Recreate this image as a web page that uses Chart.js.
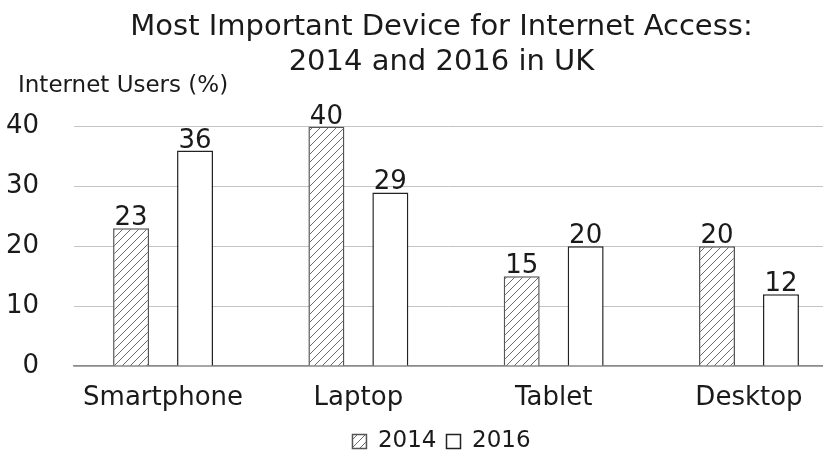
<!DOCTYPE html>
<html>
<head>
<meta charset="utf-8">
<script src="https://cdn.jsdelivr.net/npm/chart.js@4"></script>
<style>
  html, body { margin: 0; padding: 0; background: #fff; overflow: hidden; }
  #wrap { width: 823px; height: 456px; }
</style>
</head>
<body>
<div id="wrap"><canvas id="deviceChart" width="823" height="456"></canvas></div>
<script>
var categories = ['Smartphone', 'Laptop', 'Tablet', 'Desktop'];
var users2014 = [23, 40, 15, 20];
var users2016 = [36, 29, 20, 12];
var yTicks = [0, 10, 20, 30, 40];

var FONT = "'DejaVu Sans', 'Liberation Sans', sans-serif";
var TEXT = '#1a1a1a';

// diagonal hatch for the 2014 bars
function makeHatch() {
    var c = document.createElement('canvas');
    c.width = 8; c.height = 8;
    var g = c.getContext('2d');
    g.fillStyle = '#fff';
    g.fillRect(0, 0, 8, 8);
    g.strokeStyle = '#6a6a6a';
    g.lineWidth = 1;
    g.beginPath();
    g.moveTo(0, 8); g.lineTo(8, 0);
    g.moveTo(-1, 1); g.lineTo(1, -1);
    g.moveTo(7, 9); g.lineTo(9, 7);
    g.stroke();
    return g.createPattern(c, 'repeat');
}

function toPoints(values) {
    return values.map(function(v, i) { return { x: i, y: v }; });
}

var valueLabels = {
    id: 'valueLabels',
    afterDatasetsDraw: function(chart) {
        var ctx = chart.ctx;
        ctx.save();
        ctx.font = '26px ' + FONT;
        ctx.fillStyle = TEXT;
        ctx.textAlign = 'center';
        ctx.textBaseline = 'alphabetic';
        chart.data.datasets.forEach(function(ds, di) {
            chart.getDatasetMeta(di).data.forEach(function(bar, i) {
                ctx.fillText(ds.data[i].y, bar.x, bar.y - 3);
            });
        });
        ctx.restore();
    }
};

var yTitle = {
    id: 'yTitle',
    afterDraw: function(chart) {
        var ctx = chart.ctx;
        ctx.save();
        ctx.font = '23px ' + FONT;
        ctx.fillStyle = TEXT;
        ctx.textAlign = 'left';
        ctx.textBaseline = 'alphabetic';
        ctx.fillText('Internet Users (%)', 18, chart.chartArea.top - 35);
        ctx.restore();
    }
};

var ctx = document.getElementById('deviceChart').getContext('2d');
var deviceChart = new Chart(ctx, {
    type: 'bar',
    data: {
        datasets: [
            {
                label: '2014',
                data: toPoints(users2014),
                backgroundColor: makeHatch(),
                borderColor: '#555',
                borderWidth: 1.5,
                categoryPercentage: 0.655,
                barPercentage: 0.5625
            },
            {
                label: '2016',
                data: toPoints(users2016),
                backgroundColor: '#fff',
                borderColor: '#222',
                borderWidth: 1.5,
                categoryPercentage: 0.655,
                barPercentage: 0.5625
            }
        ]
    },
    options: {
        responsive: false,
        animation: false,
        // shifts title and legend right a little, as in the original
        layout: { padding: { left: 0, right: -60, top: 0, bottom: -7 } },
        scales: {
            x: {
                type: 'linear',
                offset: false,
                min: -0.456,
                max: 3.379,
                afterBuildTicks: function(axis) {
                    axis.ticks = categories.map(function(c, i) { return { value: i }; });
                },
                afterFit: function(axis) { axis.height = 54; },
                grid: { display: false, drawTicks: false, offset: false },
                border: { display: true, color: '#8a8a8a', width: 1.5 },
                ticks: {
                    padding: 17,
                    color: TEXT,
                    font: { family: FONT, size: 26 },
                    maxRotation: 0,
                    autoSkip: false,
                    callback: function(v) { return categories[v]; }
                }
            },
            y: {
                min: yTicks[0],
                max: yTicks[yTicks.length - 1],
                afterFit: function(axis) { axis.width = 74; },
                afterBuildTicks: function(axis) {
                    axis.ticks = yTicks.map(function(v) { return { value: v }; });
                },
                grid: { color: '#c4c4c4', lineWidth: 1, drawTicks: false },
                border: { display: false },
                ticks: {
                    padding: 35,
                    color: TEXT,
                    font: { family: FONT, size: 26 }
                }
            }
        },
        plugins: {
            title: {
                display: true,
                text: ['Most Important Device for Internet Access:', '2014 and 2016 in UK'],
                color: TEXT,
                font: { family: FONT, size: 29, weight: 'normal', lineHeight: 1.2 },
                padding: { top: 10, bottom: 47 }
            },
            legend: {
                position: 'bottom',
                labels: {
                    color: TEXT,
                    font: { family: FONT, size: 23 },
                    boxWidth: 14,
                    boxHeight: 14,
                    padding: 10
                }
            },
            tooltip: { enabled: false }
        }
    },
    plugins: [valueLabels, yTitle]
});
</script>
</body>
</html>
